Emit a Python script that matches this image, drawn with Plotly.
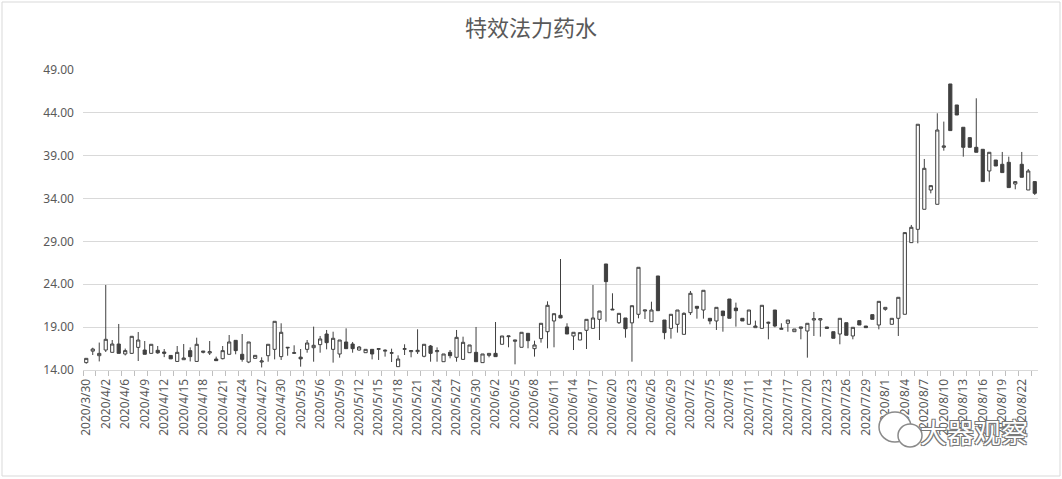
import pandas as pd
import plotly.graph_objects as go

# ---- categories: trading days shown on the chart (one day absent in early April)
all_days = pd.date_range("2020-03-30", "2020-08-24", freq="D")
missing_days = ["2020-04-04"]
dates = [f"{d.year}/{d.month}/{d.day}" for d in all_days if d.strftime("%Y-%m-%d") not in missing_days]

# ---- OHLC values
open_ = [14.86, 16.2, 15.67, 16.33, 16.06, 17.03, 15.87, 15.94, 16.64, 16.33,
         15.94, 16.3, 16.1, 15.7, 15.0, 15.2, 16.26, 15.0, 16.06, 15.98,
         15.28, 15.32, 15.83, 17.46, 15.83, 14.93, 15.36, 14.93, 15.67, 16.41,
         15.56, 16.57, 15.94, 15.5, 16.41, 16.6, 16.96, 18.2, 16.41, 15.87,
         17.27, 17.03, 16.33, 16.02, 16.41, 16.41, 16.2, 15.95, 14.39, 16.41,
         16.14, 16.14, 15.6, 16.8, 16.14, 14.97, 16.06, 15.48, 15.24, 16.02,
         16.06, 14.86, 15.71, 15.94, 17.0, 17.89, 17.35, 16.65, 18.28, 16.49,
         17.66, 18.47, 19.72, 20.38, 19.02, 17.97, 17.5, 18.63, 18.86, 19.91,
         26.37, 21.0, 19.52, 20.07, 19.5, 20.5, 20.88, 19.64, 24.97, 19.83,
         18.86, 19.33, 18.16, 20.69, 21.43, 21.0, 20.03, 19.72, 20.88, 22.28,
         21.23, 20.03, 19.33, 18.94, 18.86, 19.45, 21.0, 18.74, 19.45, 18.47,
         18.86, 18.55, 19.83, 19.83, 19.02, 18.47, 18.2, 19.52, 17.97, 19.76,
         19.13, 20.46, 19.25, 21.08, 19.33, 20.03, 20.5, 28.86, 30.41, 32.75,
         35.0, 33.33, 39.98, 47.37, 44.92, 42.32, 41.11, 39.98, 39.75, 37.22,
         38.5, 38.0, 38.23, 35.7, 38.0, 35.0, 35.98]
high = [15.36, 16.6, 17.2, 23.92, 17.5, 19.37, 16.5, 17.95, 18.43, 17.38,
        17.0, 16.8, 16.45, 15.7, 16.8, 17.03, 16.64, 17.77, 16.2, 17.38,
        15.56, 16.8, 18.08, 17.46, 18.2, 17.27, 15.71, 15.48, 17.0, 19.68,
        19.45, 16.64, 16.88, 16.45, 17.5, 19.06, 17.97, 18.67, 18.47, 17.5,
        18.86, 17.27, 16.8, 16.41, 16.41, 16.49, 16.41, 16.49, 15.71, 17.0,
        16.26, 18.75, 17.0, 16.92, 16.64, 15.87, 16.33, 18.67, 17.89, 16.92,
        19.02, 15.87, 15.94, 19.6, 17.97, 17.97, 17.5, 18.4, 18.28, 17.42,
        19.45, 22.01, 20.57, 26.95, 19.45, 18.4, 18.36, 19.91, 23.92, 20.88,
        26.37, 22.95, 20.61, 20.07, 21.5, 25.98, 21.0, 21.97, 24.97, 19.83,
        20.5, 21.0, 20.73, 23.22, 21.43, 23.3, 20.03, 21.31, 20.88, 22.28,
        21.86, 20.03, 21.0, 19.76, 21.55, 19.64, 21.0, 19.45, 19.83, 18.78,
        19.02, 19.45, 20.77, 19.99, 19.02, 18.47, 20.03, 19.52, 18.98, 19.76,
        19.13, 20.46, 22.01, 21.31, 20.03, 22.48, 30.03, 30.92, 42.67, 38.62,
        35.51, 43.95, 42.98, 47.37, 44.92, 42.32, 41.11, 45.7, 39.75, 39.4,
        38.5, 39.44, 38.89, 35.98, 39.44, 37.45, 35.98]
low = [14.74, 15.75, 15.0, 16.1, 16.06, 15.94, 15.7, 15.9, 15.05, 15.83,
       15.94, 15.9, 15.5, 15.3, 15.0, 15.2, 15.0, 15.0, 15.94, 15.75,
       15.05, 15.24, 15.83, 15.83, 14.97, 14.8, 15.36, 14.3, 14.97, 15.24,
       15.17, 15.67, 15.87, 14.39, 16.02, 14.97, 16.02, 16.41, 14.86, 15.44,
       16.49, 16.02, 16.26, 16.02, 15.24, 15.17, 15.56, 14.93, 14.39, 15.75,
       15.48, 15.87, 15.48, 14.97, 14.97, 14.97, 15.36, 14.97, 15.24, 16.02,
       14.97, 14.86, 15.48, 15.56, 17.0, 16.65, 14.66, 16.65, 16.53, 15.56,
       17.19, 16.53, 16.65, 20.07, 18.2, 16.33, 17.5, 16.45, 18.86, 17.5,
       19.64, 21.0, 19.37, 17.77, 14.97, 20.03, 19.95, 19.64, 20.92, 17.58,
       17.66, 18.36, 18.16, 20.42, 19.99, 19.99, 19.33, 18.67, 18.47, 20.03,
       19.06, 19.72, 19.33, 18.94, 18.86, 17.58, 18.98, 18.74, 18.47, 18.47,
       17.58, 15.44, 17.97, 17.89, 18.86, 17.7, 17.0, 18.05, 17.58, 19.25,
       18.94, 19.91, 18.74, 20.92, 19.33, 17.97, 20.5, 28.86, 28.78, 32.75,
       34.61, 33.33, 39.59, 41.93, 43.75, 38.89, 39.98, 39.4, 35.98, 35.98,
       37.8, 37.03, 35.28, 35.08, 36.48, 35.0, 34.42]
close = [15.36, 16.45, 15.94, 17.58, 17.03, 15.94, 16.26, 17.93, 17.5, 15.83,
         17.0, 16.0, 15.95, 15.3, 16.06, 15.4, 15.56, 17.0, 16.2, 16.14,
         15.09, 16.26, 17.27, 16.26, 15.24, 17.27, 15.71, 15.05, 17.0, 19.68,
         18.4, 16.64, 16.02, 15.3, 17.15, 16.88, 17.62, 17.19, 17.7, 17.5,
         16.49, 16.49, 16.68, 16.41, 15.87, 16.49, 16.3, 16.02, 15.28, 16.49,
         16.26, 16.3, 17.0, 15.94, 16.26, 15.87, 15.67, 17.81, 17.23, 16.92,
         14.97, 15.87, 15.94, 15.56, 17.97, 17.97, 17.5, 18.4, 17.42, 16.92,
         19.45, 21.55, 20.57, 20.07, 18.2, 18.4, 18.36, 19.91, 20.07, 20.88,
         24.31, 21.08, 20.61, 18.82, 21.5, 25.98, 21.0, 21.0, 20.92, 18.36,
         20.5, 21.0, 20.61, 22.95, 21.2, 23.3, 19.72, 21.31, 20.34, 20.03,
         20.92, 19.72, 21.0, 19.13, 21.55, 19.56, 19.13, 18.86, 19.83, 18.78,
         19.02, 19.45, 19.99, 19.99, 18.86, 17.7, 20.03, 18.05, 18.98, 19.25,
         18.94, 19.91, 22.01, 21.31, 20.03, 22.48, 30.03, 30.65, 42.67, 37.53,
         35.51, 42.0, 40.14, 41.93, 43.75, 39.98, 39.98, 39.4, 35.98, 39.4,
         37.8, 37.03, 35.28, 35.98, 36.48, 37.22, 34.61]

y_ticks = [14, 19, 24, 29, 34, 39, 44, 49]
title_text = "特效法力药水"
watermark_text = "大器观察"

W, H = 1062, 479
ML, MR, MT, MB = 83, 24, 70, 109
PW, PH = W - ML - MR, H - MT - MB


def px_x(x):
    return (x - ML) / PW


def px_y(y):
    return (H - MB - y) / PH


ink = "#404040"
fig = go.Figure()
fig.add_trace(go.Candlestick(
    x=dates, open=open_, high=high, low=low, close=close,
    increasing=dict(line=dict(color=ink, width=1), fillcolor="white"),
    decreasing=dict(line=dict(color=ink, width=1), fillcolor=ink),
    whiskerwidth=0, showlegend=False, name=title_text,
))
# helper trace carrying the tick-mark axis
fig.add_trace(go.Scatter(x=[None], y=[None], xaxis="x2", yaxis="y",
                         showlegend=False, hoverinfo="skip", mode="markers"))

n = len(dates)
fig.update_layout(
    width=W, height=H,
    margin=dict(l=ML, r=MR, t=MT, b=MB),
    paper_bgcolor="white", plot_bgcolor="white",
    font=dict(family="Noto Sans, Noto Sans CJK SC, sans-serif", color="#595959", size=12),
    title=dict(text=title_text, x=0.5, xanchor="center", y=1 - 28 / H, yanchor="middle",
               font=dict(family="Noto Sans CJK SC", size=22, color="#595959")),
    xaxis=dict(type="category", categoryorder="array", categoryarray=dates,
               range=[-0.5, n - 0.5], tickmode="array", tickvals=dates[::3],
               tickangle=-90, showgrid=False, showline=True, linecolor="#d9d9d9",
               ticks="", ticklabelstandoff=3, tickfont=dict(size=12, color="#595959"),
               rangeslider=dict(visible=False), fixedrange=True),
    xaxis2=dict(overlaying="x", anchor="y", side="bottom", type="linear",
                range=[-0.5, n - 0.5], tickmode="linear", tick0=-0.5, dtick=2,
                ticks="outside", ticklen=5, tickcolor="#bfbfbf", tickwidth=1,
                showticklabels=False, showgrid=False, zeroline=False, showline=False,
                fixedrange=True),
    yaxis=dict(range=[14, 49], tickmode="array", tickvals=y_ticks, tickformat=".2f",
               showgrid=True, gridcolor="#d9d9d9", gridwidth=1, zeroline=False,
               showline=False, ticks="", ticklabelstandoff=8, fixedrange=True,
               tickfont=dict(size=12, color="#595959")),
    shapes=[
        dict(type="rect", xref="paper", yref="paper",
             x0=px_x(2), x1=px_x(1060), y0=px_y(476), y1=px_y(2),
             line=dict(color="#d9d9d9", width=1), fillcolor="rgba(0,0,0,0)", layer="below"),
        dict(type="circle", xref="paper", yref="paper",
             x0=px_x(879), x1=px_x(911), y0=px_y(442), y1=px_y(412),
             line=dict(color="#8a8a8a", width=1.5), fillcolor="white", layer="above"),
        dict(type="circle", xref="paper", yref="paper",
             x0=px_x(898), x1=px_x(922), y0=px_y(447), y1=px_y(424),
             line=dict(color="#8a8a8a", width=1.5), fillcolor="white", layer="above"),
    ],
    annotations=[
        dict(text=watermark_text, xref="paper", yref="paper", x=px_x(974), y=px_y(432),
             xanchor="center", yanchor="middle", showarrow=False,
             font=dict(family="Noto Sans CJK SC", size=27, color="white",
                       shadow="1px 1px 0 #777, -1px -1px 0 #777, 1px -1px 0 #777, -1px 1px 0 #777")),
    ],
)

fig.write_html("out.html", config={"displayModeBar": False},
               post_script="document.body.style.margin='0';")
